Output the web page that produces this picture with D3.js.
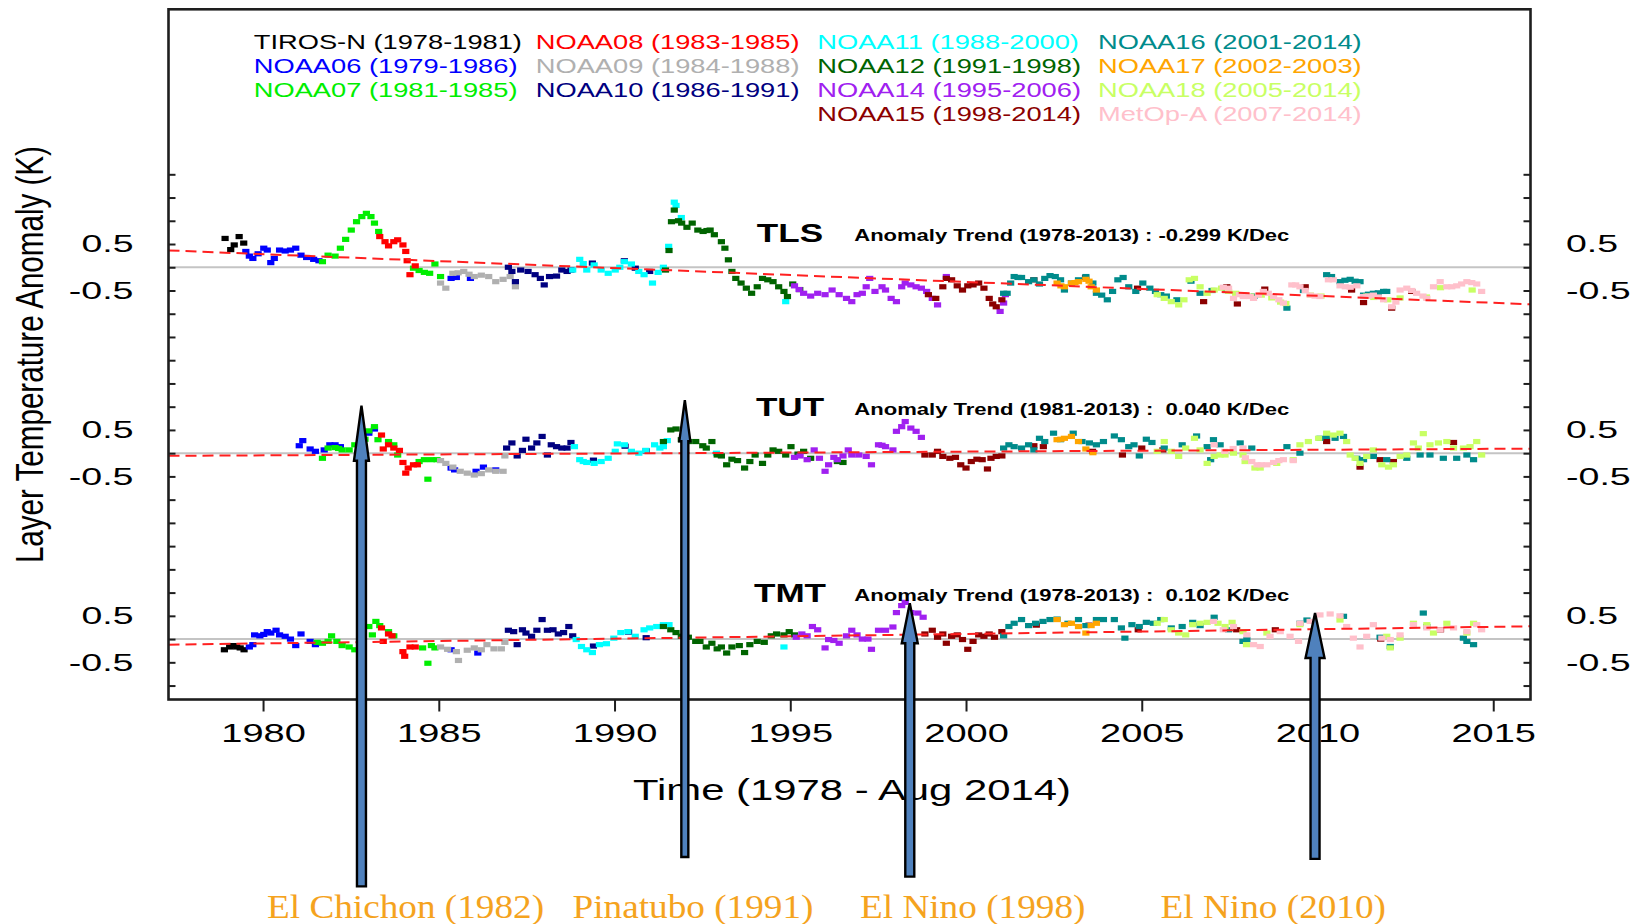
<!DOCTYPE html>
<html>
<head>
<meta charset="utf-8">
<script src="https://cdn.jsdelivr.net/npm/d3@7"></script>
<style>
  html, body { margin: 0; padding: 0; background: #ffffff; }
  svg { display: block; }
  text { white-space: pre; }
</style>
</head>
<body>
<script>
// ---------------------------------------------------------------------------
// Satellites (legend order), their periods and colours
// ---------------------------------------------------------------------------
const satNames   = ["TIROS-N", "NOAA06", "NOAA07", "NOAA08", "NOAA09", "NOAA10", "NOAA11",
                    "NOAA12", "NOAA14", "NOAA15", "NOAA16", "NOAA17", "NOAA18", "MetOp-A"];
const satPeriods = ["1978-1981", "1979-1986", "1981-1985", "1983-1985", "1984-1988", "1986-1991", "1988-2000",
                    "1991-1998", "1995-2006", "1998-2014", "2001-2014", "2002-2003", "2005-2014", "2007-2014"];
const satColors  = ["#000000", "#0000ff", "#00ee00", "#ff0000", "#b0b0b0", "#000080", "#00ffff",
                    "#006400", "#a020f0", "#8b0000", "#008b8b", "#ffa500", "#c8ff64", "#ffc0cb"];
const legendColumnSizes = [3, 3, 4, 4];

// ---------------------------------------------------------------------------
// Layers, trends and axis ticks
// ---------------------------------------------------------------------------
const layers        = ["TLS", "TUT", "TMT"];
const layerOffsets  = [8, 4, 0];                 // vertical stacking of the three layers (K)
const trendPeriods  = ["1978-2013", "1981-2013", "1978-2013"];
const trendPerDec   = [-0.299, 0.040, 0.102];    // K / decade
const trendAt1996   = [-0.197, 0.017, 0.070];    // trend line level in 1996 (K)
const xTickYears    = [1980, 1985, 1990, 1995, 2000, 2005, 2010, 2015];
const yTickLabels   = [0.5, -0.5];

// Events marked with arrows
const eventNames  = ["El Chichon (1982)", "Pinatubo (1991)", "El Nino (1998)", "El Nino (2010)"];
const arrowYears  = [1982.8, 1992.0, 1998.4, 2009.93];
const arrowTips   = [5.02, 5.14, 0.77, 0.56];    // stacked-axis value of the arrow tip
const arrowTails  = [-5.32, -4.69, -5.11, -4.73];

// ---------------------------------------------------------------------------
// Monthly layer temperature anomalies, [decimal year, K]
// ---------------------------------------------------------------------------
// TLS
const tlsTIROSN = [[1978.92,0.62],[1979.08,0.38],[1979.18,0.48],[1979.32,0.66],[1979.45,0.52]];
const tlsNOAA06 = [[1979.51,0.34],[1979.61,0.24],[1979.71,0.19],[1979.86,0.29],[1980.02,0.41],[1980.12,0.37],[1980.22,0.10],[1980.32,0.19],[1980.47,0.37],[1980.63,0.35],[1980.78,0.37],[1980.93,0.41],[1981.08,0.26],[1981.24,0.21],[1981.44,0.17],[1981.59,0.14],[1985.35,-0.24],[1985.5,-0.22],[1985.9,-0.24]];
const tlsNOAA07 = [[1981.69,0.12],[1981.85,0.26],[1982.05,0.24],[1982.2,0.41],[1982.35,0.60],[1982.51,0.80],[1982.66,0.98],[1982.81,1.09],[1982.94,1.16],[1983.07,1.09],[1983.17,0.95],[1983.29,0.77],[1984.28,-0.02],[1984.44,-0.07],[1984.59,-0.11],[1984.74,-0.13],[1984.89,0.07],[1985.05,-0.20]];
const tlsNOAA08 = [[1983.32,0.66],[1983.47,0.55],[1983.57,0.46],[1983.72,0.55],[1983.83,0.59],[1983.98,0.48],[1984.06,0.34],[1984.1,0.14],[1984.18,-0.16],[1984.33,0.03]];
const tlsNOAA09 = [[1985.05,-0.34],[1985.2,-0.45],[1985.4,-0.13],[1985.55,-0.12],[1985.71,-0.09],[1985.86,-0.15],[1986.01,-0.20],[1986.21,-0.17],[1986.42,-0.20],[1986.62,-0.31],[1986.83,-0.26],[1987.03,-0.20],[1987.18,-0.42]];
const tlsNOAA10 = [[1986.98,0.00],[1987.08,-0.09],[1987.18,-0.31],[1987.33,-0.06],[1987.54,-0.09],[1987.74,-0.16],[1987.89,-0.24],[1988.0,-0.38],[1988.15,-0.20],[1988.35,-0.19],[1988.5,-0.06],[1988.65,-0.09],[1988.76,-0.06],[1989.37,0.09],[1990.28,0.14],[1990.59,-0.02],[1991.0,-0.09]];
const tlsNOAA11 = [[1988.81,-0.06],[1989.01,0.17],[1989.11,0.08],[1989.21,-0.06],[1989.42,0.05],[1989.62,-0.06],[1989.82,-0.13],[1990.02,-0.06],[1990.15,0.00],[1990.28,0.12],[1990.48,0.07],[1990.69,-0.09],[1990.84,-0.16],[1991.08,-0.34],[1991.24,-0.11],[1991.39,0.00],[1991.54,0.45],[1991.7,1.40],[1991.75,1.33],[1991.9,1.07],[1994.87,-0.74]];
const tlsNOAA12 = [[1991.45,-0.06],[1991.55,0.36],[1991.62,0.98],[1991.7,1.23],[1991.82,1.00],[1991.91,0.95],[1992.06,0.86],[1992.21,0.95],[1992.37,0.80],[1992.52,0.77],[1992.63,0.79],[1992.72,0.80],[1992.84,0.70],[1993.04,0.55],[1993.14,0.41],[1993.24,0.16],[1993.34,-0.09],[1993.45,-0.24],[1993.6,-0.34],[1993.75,-0.45],[1993.9,-0.56],[1994.06,-0.42],[1994.21,-0.24],[1994.36,-0.27],[1994.51,-0.31],[1994.67,-0.42],[1994.82,-0.52],[1994.92,-0.63],[1995.07,-0.36],[1995.27,-0.48]];
const tlsNOAA14 = [[1995.12,-0.40],[1995.25,-0.48],[1995.38,-0.56],[1995.58,-0.62],[1995.78,-0.56],[1995.99,-0.59],[1996.19,-0.49],[1996.39,-0.59],[1996.6,-0.67],[1996.75,-0.74],[1996.9,-0.59],[1997.05,-0.56],[1997.16,-0.42],[1997.26,-0.24],[1997.41,-0.52],[1997.61,-0.42],[1997.71,-0.49],[1997.87,-0.67],[1998.02,-0.74],[1998.17,-0.42],[1998.27,-0.34],[1998.43,-0.38],[1998.58,-0.42],[1998.73,-0.45],[1998.88,-0.52],[1999.04,-0.67],[1999.19,-0.81],[1999.44,-0.20],[2000.97,-0.95],[2001.07,-0.77],[2001.12,-0.59]];
const tlsNOAA15 = [[1998.93,-0.59],[1999.14,-0.67],[1999.34,-0.42],[1999.44,-0.24],[1999.59,-0.27],[1999.75,-0.40],[1999.9,-0.49],[2000.05,-0.40],[2000.2,-0.38],[2000.36,-0.34],[2000.51,-0.45],[2000.66,-0.67],[2000.76,-0.79],[2000.86,-0.85],[2001.02,-0.70],[2001.93,-0.27],[2003.4,-0.22],[2004.88,-0.45],[2006.76,-0.74],[2007.42,-0.42],[2007.72,-0.79],[2008.5,-0.47],[2009.65,-0.42],[2010.97,-0.49],[2011.31,-0.76],[2012.11,-0.88],[2012.68,-0.52]];
const tlsNOAA16 = [[2001.07,-0.56],[2001.17,-0.56],[2001.27,-0.34],[2001.37,-0.20],[2001.48,-0.22],[2001.58,-0.22],[2001.78,-0.31],[2001.93,-0.27],[2002.09,-0.36],[2002.24,-0.24],[2002.39,-0.18],[2002.54,-0.20],[2002.69,-0.27],[2002.8,-0.49],[2003.0,-0.34],[2003.2,-0.27],[2003.41,-0.20],[2003.61,-0.34],[2003.71,-0.56],[2003.86,-0.60],[2004.02,-0.70],[2004.17,-0.52],[2004.32,-0.27],[2004.47,-0.22],[2004.63,-0.42],[2004.83,-0.52],[2005.03,-0.34],[2005.23,-0.45],[2005.39,-0.52],[2005.54,-0.59],[2005.7,-0.62],[2006.0,-0.70],[2006.4,-0.30],[2006.66,-0.56],[2007.0,-0.50],[2007.4,-0.50],[2008.2,-0.62],[2009.13,-0.88],[2009.6,-0.50],[2010.26,-0.16],[2010.4,-0.20],[2010.64,-0.31],[2010.78,-0.28],[2010.93,-0.26],[2011.07,-0.30],[2011.21,-0.31],[2011.31,-0.60],[2011.45,-0.58],[2011.59,-0.56],[2011.73,-0.55],[2011.88,-0.52],[2011.97,-0.52]];
const tlsNOAA17 = [[2002.59,-0.34],[2002.7,-0.40],[2002.8,-0.42],[2003.0,-0.34],[2003.1,-0.33],[2003.2,-0.31],[2003.41,-0.26],[2003.5,-0.30],[2003.56,-0.42],[2003.71,-0.49]];
const tlsNOAA18 = [[2005.44,-0.59],[2005.64,-0.67],[2005.84,-0.74],[2006.05,-0.81],[2006.2,-0.70],[2006.35,-0.27],[2006.5,-0.24],[2006.66,-0.42],[2006.86,-0.56],[2007.06,-0.49],[2007.27,-0.45],[2007.47,-0.52],[2007.67,-0.56],[2007.88,-0.59],[2008.1,-0.62],[2008.4,-0.60],[2008.7,-0.66],[2008.95,-0.75],[2009.1,-0.78],[2009.8,-0.60],[2010.1,-0.62],[2011.4,-0.62],[2011.6,-0.65],[2012.0,-0.70],[2012.35,-0.66],[2013.1,-0.64],[2013.5,-0.44],[2014.4,-0.49]];
const tlsMetOpA = [[2007.32,-0.43],[2007.47,-0.45],[2007.61,-0.67],[2007.78,-0.59],[2007.89,-0.63],[2008.08,-0.63],[2008.18,-0.67],[2008.32,-0.60],[2008.46,-0.52],[2008.6,-0.56],[2008.75,-0.63],[2008.9,-0.70],[2009.03,-0.77],[2009.27,-0.38],[2009.38,-0.38],[2009.5,-0.42],[2009.65,-0.50],[2009.79,-0.60],[2009.93,-0.62],[2010.07,-0.63],[2010.31,-0.27],[2010.45,-0.27],[2010.64,-0.40],[2010.79,-0.42],[2010.93,-0.43],[2011.12,-0.40],[2011.31,-0.63],[2011.45,-0.62],[2011.59,-0.60],[2011.73,-0.64],[2011.88,-0.70],[2012.11,-0.85],[2012.23,-0.75],[2012.35,-0.49],[2012.54,-0.45],[2012.68,-0.50],[2012.82,-0.56],[2013.0,-0.62],[2013.11,-0.67],[2013.3,-0.42],[2013.49,-0.31],[2013.68,-0.42],[2013.82,-0.42],[2013.96,-0.40],[2014.1,-0.36],[2014.25,-0.31],[2014.39,-0.33],[2014.53,-0.36],[2014.67,-0.52]];

// TUT
const tutNOAA06 = [[1981.03,0.16],[1981.13,0.27],[1981.34,0.09],[1981.49,0.04],[1981.74,0.07],[1981.9,0.18],[1982.05,0.18],[1982.2,0.14],[1983.01,0.43],[1983.17,0.52],[1985.35,-0.32],[1985.45,-0.36],[1986.06,-0.39],[1986.27,-0.30],[1986.62,-0.36]];
const tutNOAA07 = [[1981.69,-0.11],[1981.85,0.11],[1982.05,0.12],[1982.15,0.10],[1982.25,0.07],[1982.45,0.07],[1982.61,0.18],[1982.75,0.20],[1982.9,0.30],[1983.01,0.48],[1983.17,0.57],[1983.27,0.29],[1983.57,0.25],[1983.72,0.18],[1983.83,-0.04],[1984.44,-0.18],[1984.59,-0.14],[1984.69,-0.56],[1984.79,-0.14],[1984.95,-0.14]];
const tutNOAA08 = [[1983.37,0.39],[1983.42,0.09],[1983.57,0.18],[1983.72,0.11],[1983.88,0.06],[1983.98,-0.20],[1984.06,-0.43],[1984.13,-0.32],[1984.28,-0.25],[1984.39,-0.25]];
const tutNOAA09 = [[1985.05,-0.16],[1985.2,-0.22],[1985.4,-0.30],[1985.61,-0.39],[1985.81,-0.43],[1986.01,-0.47],[1986.21,-0.44],[1986.42,-0.36],[1986.62,-0.39],[1986.83,-0.39],[1986.88,-0.06]];
const tutNOAA10 = [[1986.93,0.11],[1987.08,0.22],[1987.23,-0.06],[1987.38,0.06],[1987.48,0.30],[1987.64,0.11],[1987.79,0.22],[1987.94,0.36],[1988.09,-0.04],[1988.2,0.18],[1988.35,0.14],[1988.5,0.11],[1988.65,0.11],[1988.76,0.23],[1989.4,-0.15],[1990.3,0.15],[1990.9,0.05]];
const tutNOAA11 = [[1988.86,0.14],[1989.01,-0.14],[1989.11,-0.18],[1989.21,-0.20],[1989.42,-0.22],[1989.62,-0.18],[1989.82,-0.11],[1990.02,0.04],[1990.08,0.20],[1990.28,0.18],[1990.48,0.04],[1990.69,0.00],[1990.89,0.06],[1991.14,0.18],[1991.29,0.11],[1991.39,0.14],[1991.5,0.27],[1992.9,0.00]];
const tutNOAA12 = [[1991.39,0.25],[1991.6,0.50],[1991.75,0.52],[1991.9,0.29],[1992.1,0.25],[1992.31,0.25],[1992.51,0.16],[1992.61,0.11],[1992.77,0.25],[1992.92,-0.04],[1993.04,-0.06],[1993.19,-0.25],[1993.34,-0.13],[1993.5,-0.16],[1993.7,-0.32],[1993.85,-0.18],[1994.0,-0.04],[1994.21,-0.22],[1994.36,-0.04],[1994.51,0.07],[1994.67,0.04],[1994.87,-0.04],[1995.02,0.14],[1995.22,-0.02],[1995.38,0.04],[1995.58,-0.11],[1996.34,-0.18],[1996.5,-0.20]];
const tutNOAA14 = [[1995.12,-0.09],[1995.28,-0.06],[1995.48,-0.14],[1995.68,0.07],[1995.83,-0.11],[1995.99,-0.39],[1996.09,-0.25],[1996.24,-0.09],[1996.34,-0.14],[1996.5,-0.06],[1996.65,0.07],[1996.75,-0.04],[1996.95,-0.04],[1997.16,-0.07],[1997.31,-0.25],[1997.51,0.18],[1997.61,0.17],[1997.71,0.14],[1997.92,0.07],[1998.02,0.47],[1998.17,0.57],[1998.27,0.68],[1998.43,0.54],[1998.58,0.47],[1998.73,0.34]];
const tutNOAA15 = [[1998.83,-0.04],[1999.04,-0.04],[1999.19,0.04],[1999.34,-0.07],[1999.54,-0.11],[1999.7,-0.09],[1999.85,-0.25],[2000.0,-0.32],[2000.15,-0.18],[2000.31,-0.13],[2000.46,-0.14],[2000.61,-0.34],[2000.71,-0.11],[2000.86,-0.07],[2001.02,-0.06],[2001.93,0.16],[2002.2,0.14],[2003.6,0.04],[2004.45,-0.04],[2005.0,0.11],[2005.6,0.07],[2010.26,0.25],[2011.21,-0.30],[2011.78,-0.14],[2012.16,-0.18],[2013.87,0.23]];
const tutNOAA16 = [[2001.07,0.11],[2001.22,0.18],[2001.37,0.14],[2001.58,0.11],[2001.78,0.18],[2001.93,0.07],[2002.09,0.32],[2002.24,0.25],[2002.49,0.43],[2002.69,0.29],[2003.05,0.43],[2003.3,0.25],[2003.51,0.22],[2003.71,0.18],[2003.91,0.25],[2004.22,0.37],[2004.42,0.29],[2004.63,0.14],[2004.78,0.18],[2004.93,-0.06],[2005.13,0.30],[2005.29,0.23],[2005.64,0.11],[2006.15,0.18],[2006.56,0.37],[2006.86,0.14],[2006.96,-0.14],[2007.04,0.29],[2007.23,0.18],[2007.8,0.22],[2008.13,0.11],[2009.13,0.14],[2009.5,0.00],[2010.07,0.32],[2010.26,0.36],[2010.5,0.32],[2010.74,0.36],[2011.12,-0.11],[2011.31,-0.14],[2011.59,-0.07],[2011.97,-0.14],[2012.54,-0.11],[2012.92,-0.04],[2013.2,-0.04],[2013.58,-0.11],[2013.96,-0.11],[2014.25,-0.04],[2014.44,-0.14]];
const tutNOAA17 = [[2002.59,0.29],[2002.7,0.30],[2002.8,0.32],[2003.0,0.36],[2003.2,0.25],[2003.41,0.09],[2003.61,0.01]];
const tutNOAA18 = [[2005.44,0.04],[2005.64,0.25],[2005.84,0.04],[2006.05,-0.07],[2006.25,0.11],[2006.5,0.32],[2006.66,0.07],[2006.86,-0.22],[2007.06,-0.07],[2007.23,-0.04],[2007.37,-0.04],[2007.61,0.00],[2007.88,-0.04],[2007.94,-0.18],[2008.22,-0.32],[2008.37,-0.32],[2008.84,-0.22],[2009.31,-0.14],[2009.5,0.18],[2009.74,0.25],[2010.03,0.32],[2010.26,0.43],[2010.45,0.39],[2010.64,0.43],[2010.83,0.25],[2010.93,-0.04],[2011.07,-0.11],[2011.21,-0.22],[2011.4,-0.07],[2011.59,0.07],[2011.83,-0.25],[2012.02,-0.30],[2012.16,-0.25],[2012.35,-0.07],[2012.54,-0.04],[2012.73,0.22],[2012.87,0.11],[2013.01,0.42],[2013.2,0.18],[2013.44,0.22],[2013.68,0.25],[2013.87,0.11],[2014.15,0.11],[2014.34,0.14],[2014.53,0.25],[2014.67,-0.04]];
const tutMetOpA = [[2007.06,0.18],[2007.36,0.04],[2007.6,0.10],[2007.88,0.11],[2007.95,-0.10],[2008.13,-0.18],[2008.28,-0.25],[2008.4,-0.25],[2008.56,-0.25],[2008.75,-0.20],[2008.9,-0.16],[2009.03,-0.14],[2009.31,-0.16]];

// TMT
const tmtTIROSN = [[1978.9,-0.23],[1979.05,-0.17],[1979.15,-0.14],[1979.25,-0.17],[1979.35,-0.19],[1979.46,-0.23]];
const tmtNOAA06 = [[1979.61,-0.17],[1979.71,-0.12],[1979.76,0.09],[1979.91,0.07],[1980.02,0.10],[1980.12,0.16],[1980.22,0.13],[1980.37,0.19],[1980.47,0.09],[1980.63,0.06],[1980.78,0.00],[1980.93,-0.14],[1981.08,0.11],[1981.34,-0.05],[1981.49,-0.12],[1985.35,-0.23],[1986.11,-0.30]];
const tmtNOAA07 = [[1981.54,-0.07],[1981.69,-0.09],[1981.85,-0.05],[1981.95,0.07],[1982.1,-0.05],[1982.25,-0.14],[1982.45,-0.17],[1982.61,-0.23],[1983.01,0.27],[1983.11,0.09],[1983.21,0.38],[1983.32,0.29],[1983.57,0.16],[1983.72,0.07],[1984.54,-0.19],[1984.69,-0.52],[1984.79,-0.14],[1984.89,-0.19]];
const tmtNOAA08 = [[1983.37,0.24],[1983.42,-0.05],[1983.57,0.11],[1983.67,0.07],[1983.98,-0.27],[1984.03,-0.37],[1984.18,-0.17],[1984.33,-0.17]];
const tmtNOAA09 = [[1985.05,-0.17],[1985.25,-0.22],[1985.5,-0.27],[1985.56,-0.46],[1985.81,-0.24],[1986.01,-0.19],[1986.21,-0.23],[1986.37,-0.12],[1986.57,-0.21],[1986.78,-0.21],[1986.88,-0.07]];
const tmtNOAA10 = [[1986.98,0.19],[1987.13,0.16],[1987.23,-0.12],[1987.38,0.20],[1987.48,0.13],[1987.64,0.06],[1987.79,0.19],[1987.94,0.42],[1988.09,0.19],[1988.25,0.20],[1988.4,0.11],[1988.55,0.14],[1988.7,0.27],[1988.81,0.07],[1989.4,-0.15],[1990.4,0.15],[1990.9,0.03]];
const tmtNOAA11 = [[1988.91,-0.01],[1989.06,-0.16],[1989.21,-0.23],[1989.37,-0.29],[1989.57,-0.12],[1989.77,-0.10],[1989.98,0.02],[1990.18,0.14],[1990.38,0.16],[1990.59,0.06],[1990.84,0.20],[1991.0,0.24],[1991.2,0.27],[1991.39,0.31],[1991.55,0.31],[1994.82,-0.17]];
const tmtNOAA12 = [[1991.39,0.27],[1991.6,0.20],[1991.75,0.14],[1991.9,0.06],[1992.1,0.04],[1992.31,-0.05],[1992.43,-0.05],[1992.61,-0.17],[1992.77,-0.09],[1992.92,-0.21],[1993.04,-0.17],[1993.19,-0.30],[1993.34,-0.17],[1993.55,-0.14],[1993.7,-0.29],[1993.85,-0.12],[1994.06,-0.05],[1994.26,-0.07],[1994.46,0.07],[1994.61,0.11],[1994.82,0.09],[1994.97,0.16],[1995.12,0.09]];
const tmtNOAA14 = [[1995.17,0.04],[1995.33,0.11],[1995.48,0.07],[1995.63,0.27],[1995.78,0.20],[1995.99,-0.19],[1996.09,-0.01],[1996.24,-0.03],[1996.39,-0.09],[1996.6,0.07],[1996.75,0.19],[1996.9,0.09],[1997.05,0.00],[1997.21,0.00],[1997.31,-0.22],[1997.51,0.19],[1997.71,0.19],[1997.92,0.26],[1998.02,0.57],[1998.17,0.72],[1998.27,0.79],[1998.43,0.57],[1998.63,0.56],[1998.78,0.47]];
const tmtNOAA15 = [[1998.83,0.11],[1999.04,0.19],[1999.19,0.04],[1999.34,0.11],[1999.44,-0.09],[1999.59,0.06],[1999.75,0.09],[1999.9,-0.01],[2000.05,-0.22],[2000.2,-0.05],[2000.36,0.09],[2000.51,0.06],[2000.66,0.11],[2000.81,0.04],[2001.02,0.16],[2002.0,0.30],[2003.5,0.30],[2004.9,0.20],[2007.7,0.20],[2008.8,0.20],[2011.8,0.00],[2013.5,0.20]];
const tmtNOAA16 = [[2001.07,0.07],[2001.22,0.27],[2001.37,0.34],[2001.58,0.42],[2001.78,0.29],[2001.98,0.34],[2002.19,0.38],[2002.39,0.42],[2002.59,0.43],[2002.9,0.34],[2003.2,0.42],[2003.41,0.29],[2003.71,0.42],[2003.91,0.42],[2004.22,0.42],[2004.42,0.24],[2004.52,0.02],[2004.72,0.31],[2004.93,0.27],[2005.13,0.36],[2005.33,0.34],[2005.54,0.42],[2005.84,0.24],[2006.15,0.27],[2006.45,0.36],[2006.66,0.29],[2007.06,0.47],[2007.47,0.20],[2007.88,-0.05],[2007.99,-0.01],[2009.5,0.34],[2009.7,0.41],[2010.74,0.49],[2011.78,0.04],[2012.07,-0.16],[2013.01,0.56],[2013.11,0.27],[2014.15,0.02],[2014.25,-0.05],[2014.44,-0.12]];
const tmtNOAA17 = [[2002.59,0.42],[2002.8,0.31],[2003.0,0.34],[2003.2,0.27],[2003.41,0.13],[2003.56,0.29],[2003.71,0.34]];
const tmtNOAA18 = [[2005.44,0.34],[2005.64,0.42],[2005.84,0.20],[2006.05,0.13],[2006.25,0.09],[2006.45,0.31],[2006.66,0.34],[2006.86,0.36],[2007.17,0.34],[2007.37,0.27],[2007.57,0.36],[2007.88,0.16],[2007.98,-0.12],[2008.56,0.13],[2009.5,0.31],[2010.64,0.41],[2011.97,0.06],[2012.07,-0.19],[2012.35,0.02],[2012.73,0.34],[2013.11,0.31],[2013.3,0.13],[2013.68,0.34],[2014.25,0.13],[2014.44,0.34]];
const tmtMetOpA = [[2007.04,0.38],[2007.32,0.20],[2007.61,0.27],[2007.99,0.09],[2008.18,-0.12],[2008.37,-0.16],[2008.65,0.06],[2008.94,0.16],[2009.22,0.06],[2009.46,-0.05],[2009.5,0.34],[2009.79,0.38],[2010.07,0.52],[2010.36,0.54],[2010.64,0.50],[2010.83,0.27],[2011.02,0.02],[2011.21,-0.17],[2011.4,0.06],[2011.59,0.31],[2011.83,0.02],[2012.07,-0.01],[2012.35,0.09],[2012.73,0.31],[2013.11,0.24],[2013.49,0.20],[2013.87,0.24],[2014.25,0.16],[2014.53,0.31],[2014.67,0.20]];

// series per layer, in satellite order (null = no data for that satellite)
const tlsSeries = [tlsTIROSN, tlsNOAA06, tlsNOAA07, tlsNOAA08, tlsNOAA09, tlsNOAA10, tlsNOAA11, tlsNOAA12, tlsNOAA14, tlsNOAA15, tlsNOAA16, tlsNOAA17, tlsNOAA18, tlsMetOpA];
const tutSeries = [null,      tutNOAA06, tutNOAA07, tutNOAA08, tutNOAA09, tutNOAA10, tutNOAA11, tutNOAA12, tutNOAA14, tutNOAA15, tutNOAA16, tutNOAA17, tutNOAA18, tutMetOpA];
const tmtSeries = [tmtTIROSN, tmtNOAA06, tmtNOAA07, tmtNOAA08, tmtNOAA09, tmtNOAA10, tmtNOAA11, tmtNOAA12, tmtNOAA14, tmtNOAA15, tmtNOAA16, tmtNOAA17, tmtNOAA18, tmtMetOpA];
const layerSeries = [tlsSeries, tutSeries, tmtSeries];

// ---------------------------------------------------------------------------
// Drawing
// ---------------------------------------------------------------------------
const W = 1635, H = 924;
const SANS = "'Liberation Sans', Arial, Helvetica, sans-serif";
const SERIF = "'Liberation Serif', 'Times New Roman', serif";

// number formatting with a plain hyphen as minus sign
const fmt = d3.formatLocale({ decimal: ".", thousands: ",", grouping: [3], currency: ["", ""], minus: "-" });

const svg = d3.select("body").append("svg")
  .attr("width", W).attr("height", H)
  .attr("viewBox", `0 0 ${W} ${H}`);

const plot = { left: 168.5, right: 1530.5, top: 9.3, bottom: 699.5 };

const x = d3.scaleLinear().domain([1977.31, 2016.06]).range([plot.left, plot.right]);
// one stacked axis: TMT around 0, TUT around 4, TLS around 8
const y = d3.scaleLinear().domain([-1.3, 13.55]).range([plot.bottom, plot.top]);

// stretch a text horizontally by factor k (wide lettering)
function widen(sel, k) {
  sel.each(function () {
    const w = this.getComputedTextLength();
    d3.select(this).attr("textLength", w * k).attr("lengthAdjust", "spacingAndGlyphs");
  });
}

// zero line of each layer
layers.forEach((name, i) => {
  const off = layerOffsets[i];
  svg.append("line")
    .attr("x1", plot.left).attr("x2", plot.right)
    .attr("y1", y(off)).attr("y2", y(off))
    .attr("stroke", "#c4c4c4").attr("stroke-width", 2);
});

// data points: small squares per satellite
const gPts = svg.append("g");
layerSeries.forEach((seriesList, li) => {
  const off = layerOffsets[li];
  seriesList.forEach((series, si) => {
    if (!series) return;
    gPts.selectAll(null)
      .data(series)
      .enter().append("rect")
      .attr("x", d => x(d[0]) - 3.6)
      .attr("y", d => y(d[1] + off) - 2.6)
      .attr("width", 7.2).attr("height", 5.2)
      .attr("fill", satColors[si]);
  });
});

// linear trends (slope from the stated K/decade)
layers.forEach((name, i) => {
  const off = layerOffsets[i];
  const f = t => trendAt1996[i] + trendPerDec[i] / 10 * (t - 1996) + off;
  const [t0, t1] = x.domain();
  svg.append("line")
    .attr("x1", x(t0)).attr("x2", x(t1))
    .attr("y1", y(f(t0))).attr("y2", y(f(t1)))
    .attr("stroke", "#ff2020").attr("stroke-width", 2)
    .attr("stroke-dasharray", "11,6");
});

// frame
svg.append("rect")
  .attr("x", plot.left).attr("y", plot.top)
  .attr("width", plot.right - plot.left).attr("height", plot.bottom - plot.top)
  .attr("fill", "none").attr("stroke", "#1e1e1e").attr("stroke-width", 2.6);

// left / right ticks (inside)
const yTicks = d3.range(-1, 10.01, 0.5);
const leftAxis = svg.append("g").attr("transform", `translate(${plot.left},0)`)
  .call(d3.axisLeft(y).tickValues(yTicks).tickSize(-7).tickFormat(""));
const rightAxis = svg.append("g").attr("transform", `translate(${plot.right},0)`)
  .call(d3.axisRight(y).tickValues(yTicks).tickSize(-7).tickFormat(""));
[leftAxis, rightAxis].forEach(g => {
  g.select(".domain").remove();
  g.selectAll(".tick line").attr("stroke", "#1e1e1e").attr("stroke-width", 2);
});

// bottom axis
const bottomAxis = svg.append("g").attr("transform", `translate(0,${plot.bottom})`)
  .call(d3.axisBottom(x).tickValues(xTickYears).tickSize(12).tickPadding(0).tickFormat(d3.format("d")));
bottomAxis.select(".domain").remove();
bottomAxis.selectAll(".tick line").attr("stroke", "#1e1e1e").attr("stroke-width", 2);
bottomAxis.selectAll(".tick text")
  .attr("y", 42).attr("dy", null)
  .attr("fill", "#000")
  .style("font-family", SANS).style("font-size", "25.7px")
  .attr("textLength", 84.5).attr("lengthAdjust", "spacingAndGlyphs");

// y tick labels on both sides
layers.forEach((name, i) => {
  yTickLabels.forEach(v => {
    const yy = y(v + layerOffsets[i]) + 8.3;
    const label = fmt.format(".1f")(v);
    const wide = label.length === 3 ? 52 : 64.7;
    svg.append("text").attr("x", 133.5).attr("y", yy)
      .attr("text-anchor", "end")
      .style("font-family", SANS).style("font-size", "23.3px")
      .attr("textLength", wide).attr("lengthAdjust", "spacingAndGlyphs")
      .text(label);
    svg.append("text").attr("x", 1566).attr("y", yy)
      .attr("text-anchor", "start")
      .style("font-family", SANS).style("font-size", "23.3px")
      .attr("textLength", wide).attr("lengthAdjust", "spacingAndGlyphs")
      .text(label);
  });
});

// layer names and trend statements
const layerLabelValue = [0.55, 0.80, 0.79];
const trendTextValue  = [0.555, 0.83, 0.815];
layers.forEach((name, i) => {
  svg.append("text")
    .attr("x", 790).attr("y", y(layerLabelValue[i] + layerOffsets[i]))
    .attr("text-anchor", "middle")
    .style("font-family", SANS).style("font-size", "25.6px").style("font-weight", "bold")
    .text(name)
    .call(widen, 1.37);
  svg.append("text")
    .attr("x", 854.3).attr("y", y(trendTextValue[i] + layerOffsets[i]))
    .style("font-family", SANS).style("font-size", "16.3px").style("font-weight", "bold")
    .attr("textLength", 435).attr("lengthAdjust", "spacingAndGlyphs")
    .text(`Anomaly Trend (${trendPeriods[i]}) : ${fmt.format(" .3f")(trendPerDec[i])} K/Dec`);
});

// legend
const legendColX = [253.8, 535.8, 817.3, 1098];
const legendRow0 = 48.7, legendRowStep = 24;
let idx = 0;
legendColumnSizes.forEach((n, c) => {
  for (let r = 0; r < n; r++, idx++) {
    svg.append("text")
      .attr("x", legendColX[c]).attr("y", legendRow0 + r * legendRowStep)
      .attr("fill", satColors[idx])
      .style("font-family", SANS).style("font-size", "20px")
      .text(`${satNames[idx]} (${satPeriods[idx]})`)
      .call(widen, 1.363);
  }
});

// axis titles
svg.append("text")
  .attr("transform", "translate(42.6,354.6) scale(1.35,1) rotate(-90)")
  .attr("text-anchor", "middle")
  .style("font-family", SANS).style("font-size", "29px")
  .attr("textLength", 417).attr("lengthAdjust", "spacingAndGlyphs")
  .text("Layer Temperature Anomaly (K)");

svg.append("text")
  .attr("x", 852).attr("y", 800)
  .attr("text-anchor", "middle")
  .style("font-family", SANS).style("font-size", "29px")
  .attr("textLength", 438).attr("lengthAdjust", "spacingAndGlyphs")
  .text("Time (1978 - Aug 2014)");

// event arrows
const shaftW = [9, 7, 9, 9], headW = [15, 11, 16, 19], headL = [55, 41, 40, 45];
arrowYears.forEach((t, i) => {
  const cx = x(t), tip = y(arrowTips[i]), tail = y(arrowTails[i]);
  const s = shaftW[i] / 2, h = headW[i] / 2, base = tip + headL[i];
  const pts = [[cx, tip], [cx + h, base], [cx + s, base], [cx + s, tail],
               [cx - s, tail], [cx - s, base], [cx - h, base]];
  svg.append("path")
    .attr("d", d3.line()(pts) + "Z")
    .attr("fill", "#4f81bd").attr("stroke", "#000").attr("stroke-width", 2.4)
    .attr("stroke-linejoin", "miter");
});

// event names
const eventLabelX = [267, 572.5, 860, 1160.6];
eventNames.forEach((name, i) => {
  svg.append("text")
    .attr("x", eventLabelX[i]).attr("y", 918)
    .attr("fill", "#f5a31e")
    .style("font-family", SERIF).style("font-size", "33.7px")
    .text(name)
    .call(widen, 1.105);
});
</script>
</body>
</html>
